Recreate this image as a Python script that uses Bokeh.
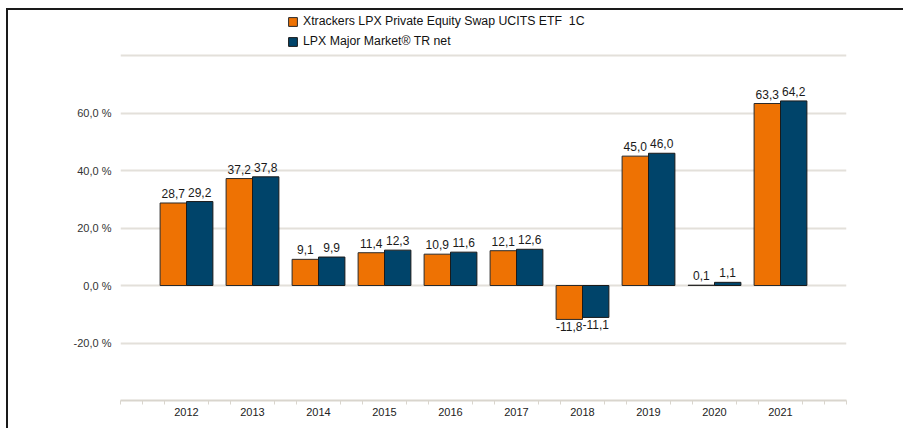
from bokeh.plotting import figure
from bokeh.models import ColumnDataSource, FixedTicker, Legend, LegendItem, Range1d
from bokeh.core.properties import value
from bokeh.embed import file_html
from bokeh.resources import INLINE

years = [2012, 2013, 2014, 2015, 2016, 2017, 2018, 2019, 2020, 2021]
etf = [28.7, 37.2, 9.1, 11.4, 10.9, 12.1, -11.8, 45.0, 0.1, 63.3]
index = [29.2, 37.8, 9.9, 12.3, 11.6, 12.6, -11.1, 46.0, 1.1, 64.2]
series_names = ["Xtrackers LPX Private Equity Swap UCITS ETF  1C",
                "LPX Major Market® TR net"]
y_label_ticks = [-20, 0, 20, 40, 60]
y_grid_ticks = [-20, 0, 20, 40, 60, 80]

ORANGE = "#ee7203"
BLUE = "#00446a"
FONT = "Liberation Sans"

# frame spans the legend area too; the headroom above 80 % holds the legend
y_top = 80 + 45 / 2.875

p = figure(width=897, height=420, output_backend="svg", toolbar_location=None,
           x_range=Range1d(min(years) - 1, max(years) + 1),
           y_range=Range1d(-40, y_top),
           min_border_left=112, min_border_right=59, min_border_top=0,
           min_border_bottom=30)
p.styles = {"border-top": "2px solid #1a1a1a", "border-left": "2px solid #1a1a1a",
            "margin-left": "6px", "margin-top": "8px"}
p.outline_line_color = None
p.background_fill_color = "white"
p.border_fill_color = "white"

def fmt(v):
    return f"{v:.1f}".replace(".", ",")

src_e = ColumnDataSource(dict(x=[y - 0.2 for y in years], top=etf,
                              lab=[fmt(v) for v in etf]))
src_i = ColumnDataSource(dict(x=[y + 0.2 for y in years], top=index,
                              lab=[fmt(v) for v in index]))

r1 = p.vbar(x="x", top="top", bottom=0, width=0.4, source=src_e,
            fill_color=ORANGE, line_color="#2a2a2a", line_width=1)
r2 = p.vbar(x="x", top="top", bottom=0, width=0.4, source=src_i,
            fill_color=BLUE, line_color="#1a1a1a", line_width=1)

for vals, xs in ((etf, [y - 0.2 for y in years]), (index, [y + 0.2 for y in years])):
    pos = [(x, v) for x, v in zip(xs, vals) if v >= 0]
    neg = [(x, v) for x, v in zip(xs, vals) if v < 0]
    sp = ColumnDataSource(dict(x=[a for a, _ in pos], y=[b for _, b in pos],
                               t=[fmt(b) for _, b in pos]))
    sn = ColumnDataSource(dict(x=[a for a, _ in neg], y=[b for _, b in neg],
                               t=[fmt(b) for _, b in neg]))
    p.text(x="x", y="y", text="t", source=sp, text_align="center",
           text_baseline="bottom", y_offset=-5, text_font=value(FONT),
           text_font_size="12px", text_color="#1a1a1a")
    p.text(x="x", y="y", text="t", source=sn, text_align="center",
           text_baseline="top", y_offset=3, text_font=value(FONT),
           text_font_size="12px", text_color="#1a1a1a")

# y axis
p.yaxis.ticker = FixedTicker(ticks=y_label_ticks)
p.yaxis.major_label_overrides = {v: fmt(v) + " %" for v in y_label_ticks}
p.yaxis.axis_line_color = None
p.yaxis.major_tick_line_color = None
p.yaxis.minor_tick_line_color = None
p.yaxis.major_label_standoff = 3
p.yaxis.major_label_text_font = FONT
p.yaxis.major_label_text_font_size = "11px"
p.yaxis.major_label_text_color = "#333333"
p.ygrid.ticker = FixedTicker(ticks=y_grid_ticks)
p.ygrid.grid_line_color = "#e3e0da"
p.ygrid.grid_line_width = 2
p.xgrid.grid_line_color = None

# x axis
minor = []
for y in range(min(years) - 1, max(years) + 1):
    minor += [y + 1 / 3, y + 2 / 3]
minor += [min(years) - 1, max(years) + 1]
p.xaxis.ticker = FixedTicker(ticks=years, minor_ticks=minor)
p.xaxis.major_label_overrides = {y: str(y) for y in years}
p.xaxis.axis_line_color = "#d9d5cd"
p.xaxis.axis_line_width = 2
p.xaxis.major_tick_line_color = None
p.xaxis.minor_tick_line_color = "#d9d5cd"
p.xaxis.minor_tick_line_width = 1
p.xaxis.minor_tick_out = 4
p.xaxis.minor_tick_in = 0
p.xaxis.major_label_standoff = 1
p.xaxis.major_label_text_font = FONT
p.xaxis.major_label_text_font_size = "11px"
p.xaxis.major_label_text_color = "#222222"

legend = Legend(items=[LegendItem(label=series_names[0], renderers=[r1]),
                       LegendItem(label=series_names[1], renderers=[r2])],
                location=(167, 352), orientation="vertical",
                glyph_width=11, glyph_height=11, label_height=12,
                label_standoff=5, spacing=6, padding=4, margin=0,
                border_line_color=None, background_fill_alpha=0,
                label_text_font=FONT, label_text_font_size="12.3px",
                label_text_color="#111111")
p.add_layout(legend, "center")

open("out.html", "w").write(file_html(p, INLINE))
